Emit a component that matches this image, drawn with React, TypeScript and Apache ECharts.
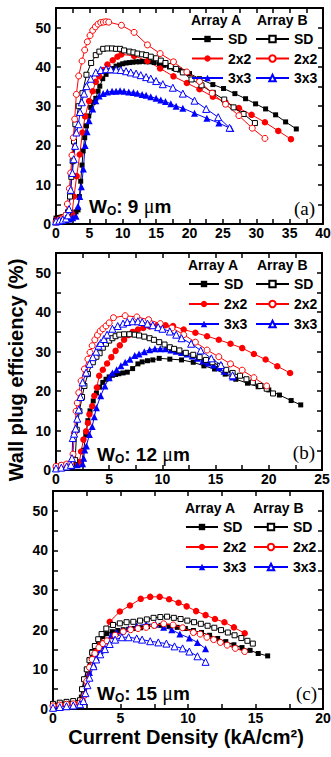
import React, { useEffect, useRef } from "react";
import * as echarts from "echarts";

// ---------- axis setup ----------
const X_MAX = [40, 25, 20];
const Y_MAX = 55;
const W_VALUES = ["9", "12", "15"];
const PANEL_TAGS = ["(a)", "(b)", "(c)"];

// ---------- panel (a): Wo = 9 um ----------
const aASD = [[0,1.5],[0.3,1.6],[0.6,1.7],[0.9,1.8],[1.2,1.9],[1.5,2.0],[1.8,2.1],[2.1,2.3],[2.4,2.5],[2.7,2.8],[3.0,3.1],[3.3,3.6],[3.5,7],[3.7,10.9],[3.9,15],[4.06,18.6],[4.3,22],[4.56,25],[4.9,27.5],[5.2,29.7],[5.6,31],[5.96,32],[6.3,33.8],[6.56,35.1],[7,37],[7.5,38.1],[8,39],[8.5,39.6],[9,40.2],[9.5,40.5],[10,40.8],[10.5,41],[11,41.1],[11.5,41.2],[12,41.3],[12.5,41.3],[13,41.4],[13.5,41.3],[14,41.3],[14.7,41.1],[15.5,40.8],[16.2,40.4],[17,40],[17.7,39.6],[18.5,39.2],[19.2,38.7],[20,38.3],[21.5,37],[23.5,35.5],[25.1,34.5],[26.8,33.2],[28.4,31.9],[29.9,30.6],[31.4,29.3],[32.9,27.8],[34.4,26],[36,24.2]];
const aBSD = [[0,0.8],[0.5,1.2],[1,1.6],[1.5,2.2],[1.8,3],[2.1,7],[2.3,12],[2.5,16],[2.7,21],[2.9,25.4],[3.4,30],[3.96,33.3],[4.56,38],[5.26,41],[5.96,43],[6.5,43.9],[7.07,44.6],[7.7,44.7],[8.4,44.7],[9,44.6],[9.6,44.6],[10.2,44.2],[11,43.9],[11.6,43.7],[12.2,43.4],[12.9,43.2],[13.5,43],[14.2,42.6],[15,42.2],[15.7,41.6],[16.4,41],[17.2,40.2],[18,39.5],[19,38.6],[20.3,36.8],[21.8,35.3],[23.5,33.4],[25.2,31.7],[26.6,29.7],[28.1,28],[29.8,25.7]];
const aA2x2 = [[0,1.0],[0.5,1.3],[1,1.6],[1.5,1.9],[2,2.2],[2.4,2.6],[2.7,7],[3.1,12.2],[3.56,17.7],[3.96,23.3],[4.36,27.4],[4.96,31.3],[5.5,33.8],[5.96,36.2],[6.47,37.6],[7.07,39.2],[7.7,40.6],[8.5,41.7],[9.2,42.6],[9.8,43.2],[11.7,42.8],[13.7,41.5],[15.6,39.6],[17.6,37.6],[19.6,35.9],[21.5,34.3],[23.5,32.4],[25.4,31],[27.4,29.5],[29.3,27.8],[31.3,25.9],[33.3,23.7],[35.2,21.6]];
const aB2x2 = [[0,0.5],[0.3,0.8],[0.6,1.1],[0.9,1.4],[1.2,1.7],[1.5,2.3],[1.7,5.1],[2.0,9],[2.2,13],[2.4,17.5],[2.6,22],[2.8,26.7],[3.05,33],[3.4,37.7],[3.9,41.5],[4.3,44.3],[4.7,46.4],[5.1,48],[5.5,49.3],[5.9,50.2],[6.3,50.9],[6.7,51.3],[7.1,51.4],[7.5,51.5],[7.9,51.4],[9.8,50.6],[11.7,48.8],[13.7,45.6],[15.6,43.4],[17.6,41.3],[19.6,38.7],[21.5,36.3],[23.4,33.3],[25.4,30.5],[27.4,27.6],[29.4,24.4],[31.3,21.8]];
const aA3x3 = [[0,0.5],[0.5,0.7],[1,0.9],[1.5,1.1],[2,1.3],[2.5,1.6],[3,2],[3.3,4.5],[3.56,7],[3.8,9.5],[4.1,14],[4.36,20],[4.66,23.5],[4.96,26.3],[5.5,29.3],[5.96,31.4],[6.47,32.6],[7.07,33.2],[7.7,33.6],[8.4,33.8],[9,33.8],[9.6,33.9],[10.2,33.8],[10.9,33.6],[11.6,33.5],[12.2,33.3],[12.9,33],[13.5,32.8],[14.2,32.4],[15,32],[15.7,31.6],[16.4,31.2],[17.2,30.6],[18,30],[19,29.5],[20.75,28.2],[22.6,26.9],[24.4,25.7],[26.2,24.3]];
const aB3x3 = [[0,0.7],[0.5,0.9],[1,1.1],[1.5,1.4],[1.8,2.2],[1.95,3.8],[2.2,8.7],[2.46,13],[2.65,16.5],[2.86,19.9],[3.06,23.3],[3.36,25.4],[3.6,28.5],[3.86,31],[4.2,33.2],[4.56,35.1],[5.2,37],[5.96,38.6],[6.7,39.2],[7.5,39.4],[8.2,39.4],[9,39.3],[9.7,39.2],[10.5,38.9],[11.2,38.6],[12,38.3],[12.7,37.9],[13.5,37.4],[14.2,37],[15,36.4],[16,35.6],[17.5,34.7],[19,33.2],[20.75,31.4],[22.5,29.3],[24.3,27.2],[26,24.5]];

// ---------- panel (b): Wo = 12 um ----------
const bASD = [[0,0.6],[0.5,0.9],[1,1.1],[1.5,1.3],[2,1.5],[2.4,1.7],[2.6,5],[2.8,9],[3,12.5],[3.2,15],[3.5,17.5],[3.8,19.5],[4.1,21],[4.4,22.2],[4.7,23],[5,23.6],[5.3,24],[5.6,24.2],[5.9,24.4],[6.3,24.6],[6.7,24.8],[7.2,25.7],[7.7,26.9],[8.1,27.4],[8.6,27.7],[9.1,27.9],[9.7,28.3],[10.7,28.1],[11.8,27.9],[12.9,27.3],[13.9,26.4],[14.9,25.6],[15.9,24.3],[16.9,23],[18,22],[19,21.1],[20,20.3],[21,19],[22.1,17.6],[23,16.5]];
const bBSD = [[0,0.8],[0.5,1.1],[1,1.3],[1.5,1.6],[1.8,2.5],[1.95,10.2],[2.2,14.9],[2.45,18.5],[2.67,21.3],[3,24.3],[3.46,27.3],[3.8,28.7],[4.1,29.6],[4.4,31],[4.7,32],[5,32.8],[5.3,33.4],[5.6,33.9],[5.95,34.3],[6.4,34.4],[6.9,34.4],[7.4,34.3],[7.8,34.1],[8.3,33.8],[8.8,33.4],[9.2,33],[9.7,32.4],[10.2,31.8],[10.7,31.1],[11.1,30.7],[11.6,30.3],[12.2,29.7],[12.9,29.2],[13.5,28.6],[14.1,27.9],[14.7,27.3],[15.4,26.4],[16,25.4],[16.6,24.6],[17.3,23.9],[17.9,23],[18.5,22.2],[19.2,21.3],[19.8,20.6],[20.4,19.4]];
const bA2x2 = [[0,0.7],[0.5,1],[1,1.2],[1.5,1.4],[2,1.7],[2.2,2],[2.36,4.7],[2.58,7.7],[2.83,9.8],[3,11.9],[3.14,14.1],[3.4,16.2],[3.6,18.8],[3.84,20.9],[4.06,23.9],[4.4,25.4],[4.8,27],[5.2,28.6],[5.6,30.2],[6,31.6],[6.4,33],[6.8,34.2],[7.2,35],[7.7,35.6],[8.2,36],[8.8,36.4],[9.5,36.6],[10.3,36.7],[11,36.5],[12,35.6],[13.1,34.8],[14.2,33.9],[15.3,33],[16.4,32],[17.5,30.9],[18.6,29.4],[19.7,28],[20.8,26.3],[22,24.6]];
const bB2x2 = [[0,0.9],[0.5,1.2],[1,1.5],[1.4,1.8],[1.6,4],[1.73,9.4],[1.89,14.9],[2.0,17],[2.14,19.6],[2.36,22.6],[2.67,25.6],[3,28.1],[3.2,29.8],[3.4,31.5],[3.65,33],[3.9,34.2],[4.15,35.2],[4.4,35.8],[4.7,36.5],[5,37.3],[5.4,38.6],[6.5,39.1],[7.6,38.8],[8.7,38.1],[9.8,37.1],[10.9,36],[12,34.3],[13.1,32.4],[14.2,30.4],[15.3,28.7],[16.4,26.9],[17.5,25.3],[18.6,23.4],[19.8,21.3]];
const bA3x3 = [[0,0.5],[0.5,0.7],[1,0.9],[1.5,1.1],[2,1.3],[2.5,1.6],[2.6,3],[2.7,5.1],[2.86,6.1],[3.14,9],[3.4,11],[3.6,13.5],[3.8,15.8],[4.2,18.8],[4.6,21.3],[5,23.4],[5.3,24.6],[5.7,25.4],[6.1,26.4],[6.5,27.3],[6.95,28.1],[7.4,29],[7.8,29.4],[8.3,30],[8.8,30.5],[9.3,30.7],[9.8,30.7],[10.3,30.7],[10.8,30.4],[11.3,30.1],[11.8,29.8],[12.3,29.4],[12.8,28.9],[13.3,28.3],[13.8,27.6],[14.3,27.1],[14.8,26.6],[15.3,25.9],[15.8,25],[16.6,23.6]];
const bB3x3 = [[0,0.4],[0.5,0.6],[1,0.9],[1.4,1.3],[1.5,3],[1.57,8.1],[1.7,9.2],[1.85,10.5],[2.0,13],[2.14,15.3],[2.3,18.5],[2.5,22.2],[2.83,24.7],[3.14,26.9],[3.46,28.6],[3.77,30],[4.0,31.5],[4.2,32.2],[4.5,33.2],[4.8,34.3],[5.3,35.8],[5.8,36.5],[6.3,37.1],[6.7,37.5],[7.2,37.7],[7.7,37.7],[8.1,37.5],[8.6,37.1],[9.1,36.7],[9.6,36.2],[10,35.8],[10.7,35.1],[11.3,34.3],[11.8,33.4],[12.7,32],[13.6,30.3],[14.6,28.3],[15.5,26.6],[16.6,24]];

// ---------- panel (c): Wo = 15 um ----------
const cASD = [[0,1.3],[0.5,1.6],[1,1.8],[1.5,2],[2,2.2],[2.1,3],[2.2,5],[2.35,7.5],[2.5,10],[2.7,12.5],[2.9,14.5],[3.1,16],[3.4,17.3],[3.7,18.3],[4,19],[4.4,19.5],[4.8,19.8],[5.2,20],[5.6,20.1],[6.0,20.3],[6.5,20.5],[7,20.8],[7.5,21],[8,21.1],[8.6,20.9],[9.2,20.6],[9.8,20.3],[10.4,19.8],[11,19.3],[11.6,18.6],[12.2,17.8],[12.8,17],[13.4,16.2],[14,15.5],[14.6,14.8],[15.2,14],[15.9,13.4]];
const cBSD = [[0,1.3],[0.5,1.6],[1,1.8],[1.5,2],[2,2.2],[2.15,5],[2.3,7.5],[2.5,10],[2.7,12.3],[2.9,14.2],[3.1,15.9],[3.35,17.6],[3.6,18.9],[3.95,20.3],[4.45,21.2],[4.95,21.6],[5.45,21.9],[5.95,22],[6.45,22.3],[6.95,22.6],[7.45,23],[7.95,23.2],[8.45,23.3],[8.95,23],[9.45,22.7],[9.95,22.3],[10.45,21.9],[10.95,21.5],[11.45,21],[11.95,20.5],[12.45,19.9],[12.95,19.3],[13.45,18.6],[13.95,17.9],[14.4,17.2],[14.8,16.5]];
const cA2x2 = [[0,1.0],[0.5,1.2],[1,1.4],[1.5,1.5],[2,1.7],[2.15,2.5],[2.3,5],[2.45,7.5],[2.6,10],[2.8,12.5],[3.1,14.5],[3.5,17],[4.2,22],[4.95,24.6],[5.7,26.1],[6.5,27.8],[7.2,28.3],[7.9,28.3],[8.6,27.7],[9.3,26.8],[9.9,25.9],[10.6,24.7],[11.3,23.7],[12,22.7],[12.7,21.9],[13.4,20.6],[14.2,19.1]];
const cB2x2 = [[0,0.8],[0.5,1],[1,1.2],[1.5,1.3],[2,1.5],[2.2,2],[2.35,3.5],[2.5,7],[2.7,10.5],[2.9,12.5],[3.1,14],[3.4,15.5],[3.7,16.5],[4,17.2],[4.6,18.6],[5.2,19.5],[5.75,20],[6.3,20.3],[6.9,20.6],[7.5,21.1],[8.2,21.5],[8.9,21.2],[9.6,20.5],[10.4,19.3],[10.9,18.9],[11.4,18.1],[11.9,17.5],[12.4,16.8],[12.9,16.1],[13.5,15.3],[14.2,14.5]];
const cA3x3 = [[0,0.5],[0.5,0.7],[1,0.9],[1.5,1.1],[2,1.3],[2.2,2],[2.35,4],[2.5,6],[2.7,9.2],[3,11.3],[3.2,13],[3.5,14.7],[3.7,15.9],[4,17.2],[4.3,18.5],[4.7,19.3],[5.1,19.7],[5.6,20.3],[6.2,21],[6.9,21.4],[7.6,21.4],[8.2,20.6],[8.8,20],[9.4,18.9],[10.1,17.9],[10.7,16.8],[11.3,15.2]];
const cB3x3 = [[0,0.3],[0.5,0.5],[1,0.7],[1.5,0.9],[2,1.2],[2.25,2],[2.4,4],[2.55,6],[2.7,7.9],[3,10.8],[3.2,12.5],[3.5,13.8],[3.85,15.1],[4.2,16.4],[4.6,17.5],[5.1,18.1],[5.6,18.1],[6.2,17.8],[6.6,17.5],[7.2,17.1],[7.8,16.8],[8.4,16.5],[9,15.8],[9.6,15.3],[10.1,14.5],[10.7,13.3],[11.3,11.9]];

const PANEL_DATA = [
  { ASD: aASD, BSD: aBSD, A2x2: aA2x2, B2x2: aB2x2, A3x3: aA3x3, B3x3: aB3x3 },
  { ASD: bASD, BSD: bBSD, A2x2: bA2x2, B2x2: bB2x2, A3x3: bA3x3, B3x3: bB3x3 },
  { ASD: cASD, BSD: cBSD, A2x2: cA2x2, B2x2: cB2x2, A3x3: cA3x3, B3x3: cB3x3 },
];

const SERIES_KEYS = ["ASD", "A2x2", "A3x3", "BSD", "B2x2", "B3x3"];
const SERIES_LABELS: Record<string, string> = { ASD: "SD", BSD: "SD", A2x2: "2x2", B2x2: "2x2", A3x3: "3x3", B3x3: "3x3" };

const STYLES: Record<string, { color: string; symbol: string; size: number; empty: boolean }> = {
  ASD: { color: "#000000", symbol: "rect", size: 5, empty: false },
  BSD: { color: "#000000", symbol: "rect", size: 5, empty: true },
  A2x2: { color: "#ff0000", symbol: "circle", size: 6.5, empty: false },
  B2x2: { color: "#ff0000", symbol: "circle", size: 6, empty: true },
  A3x3: { color: "#0000ff", symbol: "triangle", size: 7, empty: false },
  B3x3: { color: "#0000ff", symbol: "triangle", size: 7, empty: true },
};

// layout (pixels)
const GRIDS = [
  { left: 56, top: 8, width: 267, height: 216 },
  { left: 56, top: 253, width: 266, height: 217 },
  { left: 53, top: 491, width: 270, height: 218 },
];
const LEGEND_POS = [
  { aLeft: 191, aW: 31, bLeft: 255, bW: 33, top: 32, gap: 5.5, headY: 20, headA: 191, headB: 257 },
  { aLeft: 188, aW: 30, bLeft: 255, bW: 33, top: 277, gap: 6, headY: 265, headA: 188, headB: 257 },
  { aLeft: 185, aW: 32, bLeft: 253, bW: 34, top: 520, gap: 6, headY: 508, headA: 185, headB: 253 },
];
const ANNOT_POS = [
  { wx: 89, wy: 206, tx: 315, ty: 208 },
  { wx: 97, wy: 454, tx: 315, ty: 452 },
  { wx: 97, wy: 693, tx: 317, ty: 693 },
];

const FONT = "'Liberation Sans', Arial, sans-serif";
const SERIF = "'Liberation Serif', 'Times New Roman', serif";

export default function App() {
  const ref = useRef<HTMLDivElement>(null);
  useEffect(() => {
    if (!ref.current) return;
    const chart = echarts.init(ref.current, null, { renderer: "svg" });

    const grid: any[] = [];
    const xAxis: any[] = [];
    const yAxis: any[] = [];
    const series: any[] = [];
    const legend: any[] = [];
    const graphic: any[] = [];

    const tickStyle = { inside: true, length: 5, lineStyle: { color: "#000", width: 1.5 } };
    const lineStyle = { show: true, onZero: false, lineStyle: { color: "#000", width: 2 } };

    for (let p = 0; p < 3; p++) {
      grid.push({ ...GRIDS[p], show: false, containLabel: false, outerBoundsMode: "none" });
      const xBase = { type: "value", gridIndex: p, min: 0, max: X_MAX[p], interval: 2.5, splitLine: { show: false }, axisLine: lineStyle, axisTick: tickStyle };
      xAxis.push({
        ...xBase,
        position: "bottom",
        axisLabel: {
          margin: 2, color: "#000", fontWeight: "bold", fontSize: 14, lineHeight: 14, fontFamily: FONT,
          formatter: (v: number) => (Math.abs(v % 5) < 1e-6 ? String(v) : ""),
        },
      });
      xAxis.push({ ...xBase, position: "top", axisLabel: { show: false } });
      const yBase = { type: "value", gridIndex: p, min: 0, max: Y_MAX, interval: 5, splitLine: { show: false }, axisLine: lineStyle, axisTick: tickStyle };
      yAxis.push({
        ...yBase,
        position: "left",
        axisLabel: {
          margin: 5, color: "#000", fontWeight: "bold", fontSize: 14, fontFamily: FONT,
          formatter: (v: number) => (Math.abs(v % 10) < 1e-6 ? String(v) : ""),
        },
      });
      yAxis.push({ ...yBase, position: "right", axisLabel: { show: false } });

      const names: Record<string, string> = {};
      for (const key of SERIES_KEYS) {
        const st = STYLES[key];
        const name = `${p}-${key}`;
        names[key] = name;
        series.push({
          type: "line",
          name,
          xAxisIndex: p * 2,
          yAxisIndex: p * 2,
          data: (PANEL_DATA[p] as any)[key],
          symbol: st.symbol,
          symbolSize: st.size,
          showSymbol: true,
          lineStyle: { color: st.color, width: 1 },
          itemStyle: st.empty
            ? { color: "#ffffff", borderColor: st.color, borderWidth: 1 }
            : { color: st.color, borderWidth: 0 },
          emphasis: { disabled: true },
          z: st.empty ? 3 : 2,
        });
      }

      const lp = LEGEND_POS[p];
      const legendBase = {
        orient: "vertical",
        top: lp.top,
        padding: 0,
        itemHeight: 8,
        itemGap: lp.gap,
        selectedMode: false,
        formatter: (n: string) => SERIES_LABELS[n.split("-")[1]],
        textStyle: { color: "#000", fontWeight: "bold", fontSize: 14, fontFamily: FONT },
      };
      legend.push({ ...legendBase, left: lp.aLeft, itemWidth: lp.aW, data: [names.ASD, names.A2x2, names.A3x3] });
      legend.push({ ...legendBase, left: lp.bLeft, itemWidth: lp.bW, data: [names.BSD, names.B2x2, names.B3x3] });

      graphic.push({
        type: "text", x: lp.headA, y: lp.headY,
        style: { text: "Array A", fill: "#000", font: `bold 14px ${FONT}`, verticalAlign: "middle" },
      });
      graphic.push({
        type: "text", x: lp.headB, y: lp.headY,
        style: { text: "Array B", fill: "#000", font: `bold 14px ${FONT}`, verticalAlign: "middle" },
      });

      const ap = ANNOT_POS[p];
      graphic.push({
        type: "text", x: ap.wx, y: ap.wy,
        style: {
          text: `{w|W}{o|O}{w|: ${W_VALUES[p]} }{mu|\u03bc}{w|m}`,
          verticalAlign: "middle",
          fill: "#000",
          rich: {
            w: { fontSize: 19, fontWeight: "bold", fontFamily: FONT, lineHeight: 22, fill: "#000" },
            o: { fontSize: 12, fontWeight: "bold", fontFamily: FONT, lineHeight: 12, verticalAlign: "bottom", fill: "#000" },
            mu: { fontSize: 20, fontWeight: "normal", fontFamily: SERIF, lineHeight: 22, fill: "#000" },
          },
        },
      });
      graphic.push({
        type: "text", x: ap.tx, y: ap.ty,
        style: { text: PANEL_TAGS[p], fill: "#000", font: `19px ${SERIF}`, align: "right", verticalAlign: "middle" },
      });
    }

    graphic.push({
      type: "text", x: 16, y: 370, rotation: Math.PI / 2,
      style: { text: "Wall plug efficiency (%)", fill: "#000", font: `bold 20px ${FONT}`, align: "center", verticalAlign: "middle" },
    });
    graphic.push({
      type: "text", x: 186, y: 737,
      style: { text: "Current Density (kA/cm\u00b2)", fill: "#000", font: `bold 20px ${FONT}`, align: "center", verticalAlign: "middle" },
    });

    chart.setOption({
      animation: false,
      backgroundColor: "#fff",
      grid, xAxis, yAxis, series, legend, graphic,
    });
    return () => chart.dispose();
  }, []);
  return <div ref={ref} style={{ position: "absolute", left: 0, top: 0, width: 331, height: 757 }} />;
}
